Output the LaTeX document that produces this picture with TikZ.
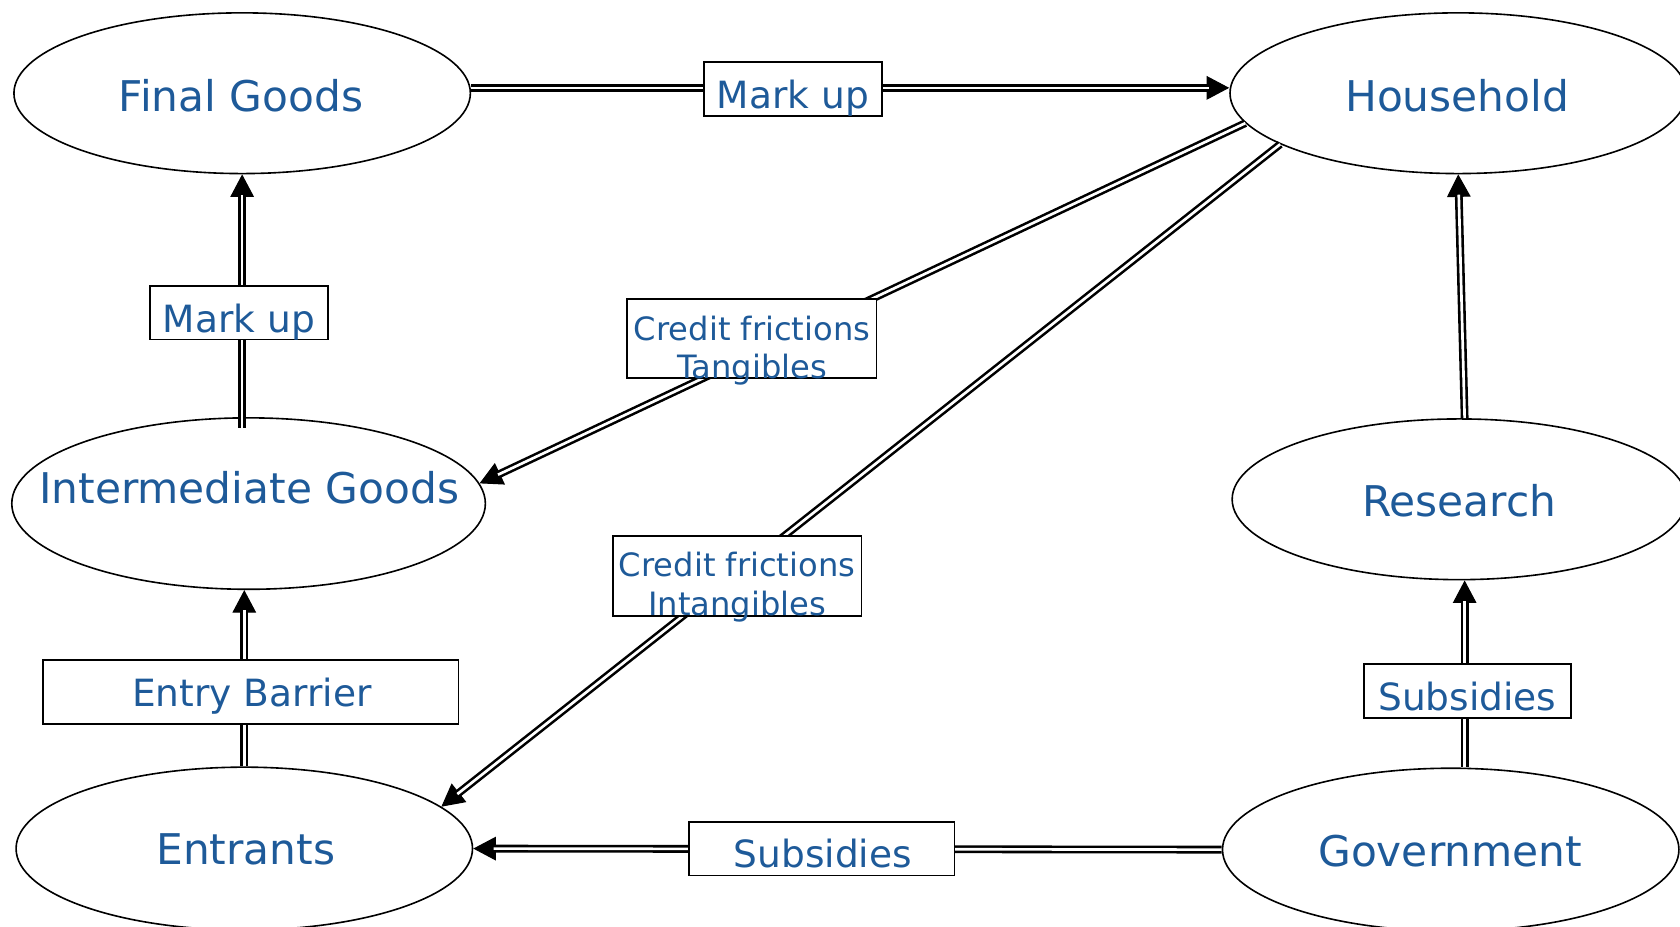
\documentclass[tikz,border=0pt]{standalone}
\usepackage{fontspec}
\setmainfont{DejaVu Sans}
\usetikzlibrary{arrows.meta,shapes.geometric}
\definecolor{txtblue}{HTML}{1E5A99}
\newcommand\dblarrow[2]{%
  \draw[tipline] #1 -- #2;
  \draw[dbl, shorten >=19pt] #1 -- #2;}
\begin{document}
\begin{tikzpicture}[x=1pt,y=-1pt,
  ell/.style={ellipse, draw, line width=1.5pt, inner sep=0pt},
  etext/.style={text=txtblue, font=\fontsize{39.5}{47}\selectfont, inner sep=0pt, anchor=base},
  lbox/.style={draw, fill=white, line width=1.5pt, inner sep=0pt},
  ltext/.style={text=txtblue, font=\fontsize{35}{42}\selectfont, inner sep=0pt, anchor=base},
  ctext/.style={text=txtblue, font=\fontsize{30}{36}\selectfont, inner sep=0pt, align=center},
  dbl/.style={double, line width=2.4pt, double distance=2.5pt},
  tipline/.style={-{Triangle[length=21pt,width=22pt]}, line width=1pt}]
\useasboundingbox (0,0) rectangle (1568,864.3);

% ellipses
\node[ell, minimum width=426pt, minimum height=150pt] (fg) at (226,87) {};
\node[ell, minimum width=426pt, minimum height=150pt] (hh) at (1361,87) {};
\node[ell, minimum width=442pt, minimum height=160pt] (ig) at (232,470) {};
\node[ell, minimum width=424pt, minimum height=150pt] (rs) at (1362,466) {};
\node[ell, minimum width=426pt, minimum height=152pt] (en) at (228,792) {};
\node[ell, minimum width=426pt, minimum height=152pt] (gv) at (1354,793) {};

\node[etext] (fgt) at (225,104) {Final Goods};
\node[etext] (hht) at (1360,104) {Household};
\node[etext] (igt) at (232.5,470) {Intermediate Goods};
\node[etext] (rst) at (1362,482) {Research};
\node[etext] (ent) at (229.5,806.7) {Entrants};
\node[etext] (gvt) at (1353.5,809) {Government};

\coordinate (rsb) at ([xshift=5pt]rs.south);

% connectors
\dblarrow{([yshift=5pt]fg.east)}{([yshift=5pt]hh.west)}
\dblarrow{([yshift=-10pt]ig.north -| fg.south)}{(fg.south)}
\dblarrow{(en.north)}{(ig.south -| en.north)}
\dblarrow{([xshift=5pt]rs.north)}{(hh.south)}
\dblarrow{(gv.north -| rsb)}{(rsb)}
\dblarrow{(gv.west)}{(en.east)}
\dblarrow{(hh.188)}{(ig.5)}
\dblarrow{(hh.196)}{(en.12)}

% label boxes
\node[lbox, minimum width=166pt, minimum height=50pt] (b1) at (740,83) {};
\node[ltext] (t1) at (740,101) {Mark up};
\node[lbox, minimum width=166pt, minimum height=50pt] (b2) at (223,292) {};
\node[ltext] (t2) at (223,310) {Mark up};
\node[lbox, minimum width=233pt, minimum height=74pt] (b3) at (701.5,316) {};
\node[ctext] (t3) at (702,327.3) {Credit frictions\\Tangibles};
\node[lbox, minimum width=232pt, minimum height=75pt] (b4) at (688,537.5) {};
\node[ctext] (t4) at (688,548.1) {Credit frictions\\Intangibles};
\node[lbox, minimum width=388pt, minimum height=60pt] (b5) at (234,646) {};
\node[ltext] (t5) at (235,659.6) {Entry Barrier};
\node[lbox, minimum width=193pt, minimum height=50pt] (b6) at (1369.5,645) {};
\node[ltext] (t6) at (1369.5,663) {Subsidies};
\node[lbox, minimum width=248pt, minimum height=50pt] (b7) at (767,792) {};
\node[ltext] (t7) at (768,810) {Subsidies};
\end{tikzpicture}
\end{document}
